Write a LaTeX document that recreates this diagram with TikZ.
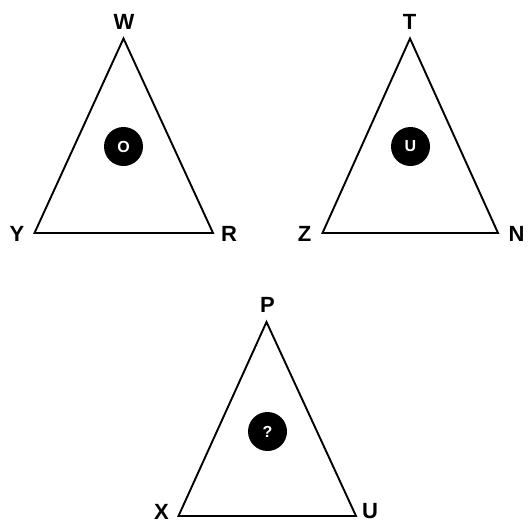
\documentclass[tikz,border=0pt]{standalone}
\usepackage{fontspec}
\setmainfont{Liberation Sans}
\begin{document}
\begin{tikzpicture}[x=1pt,y=-1pt,
  lbl/.style={font=\fontsize{22}{23}\selectfont\bfseries, inner sep=0pt},
  tri/.style={draw=black, line width=1.9pt, line join=miter},
  dot/.style={circle, fill=black, minimum size=39pt, inner sep=0pt, text=white, font=\fontsize{16}{17}\selectfont\bfseries}]
\useasboundingbox (0,0) rectangle (530,525);
% triangle 1
\coordinate (w) at (123.5,38.5);
\coordinate (y) at (34.5,233);
\coordinate (r) at (213,233);
\draw[tri] (w) -- (y) -- (r) -- cycle;
\node[lbl] (lw) at (124,22) {W};
\node[lbl] (ly) at (17,233.5) {Y};
\node[lbl] (lr) at (229,234) {R};
\node[dot] (d1) at (123.5,146.5) {O};
% triangle 2
\coordinate (t) at (410,38.5);
\coordinate (z) at (322.5,233);
\coordinate (n) at (498,233);
\draw[tri] (t) -- (z) -- (n) -- cycle;
\node[lbl] (lt) at (409.5,22) {T};
\node[lbl] (lz) at (304.5,233.5) {Z};
\node[lbl] (ln) at (516.5,234) {N};
\node[dot] (d2) at (410.5,146.5) {U};
% triangle 3
\coordinate (p) at (266.5,322);
\coordinate (x) at (178.5,516);
\coordinate (u) at (356,516);
\draw[tri] (p) -- (x) -- (u) -- cycle;
\node[lbl] (lp) at (267.5,305) {P};
\node[lbl] (lx) at (161.5,511.5) {X};
\node[lbl] (lu) at (370,511.5) {U};
\node[dot] (d3) at (267.5,431.5) {?};
\end{tikzpicture}
\end{document}
